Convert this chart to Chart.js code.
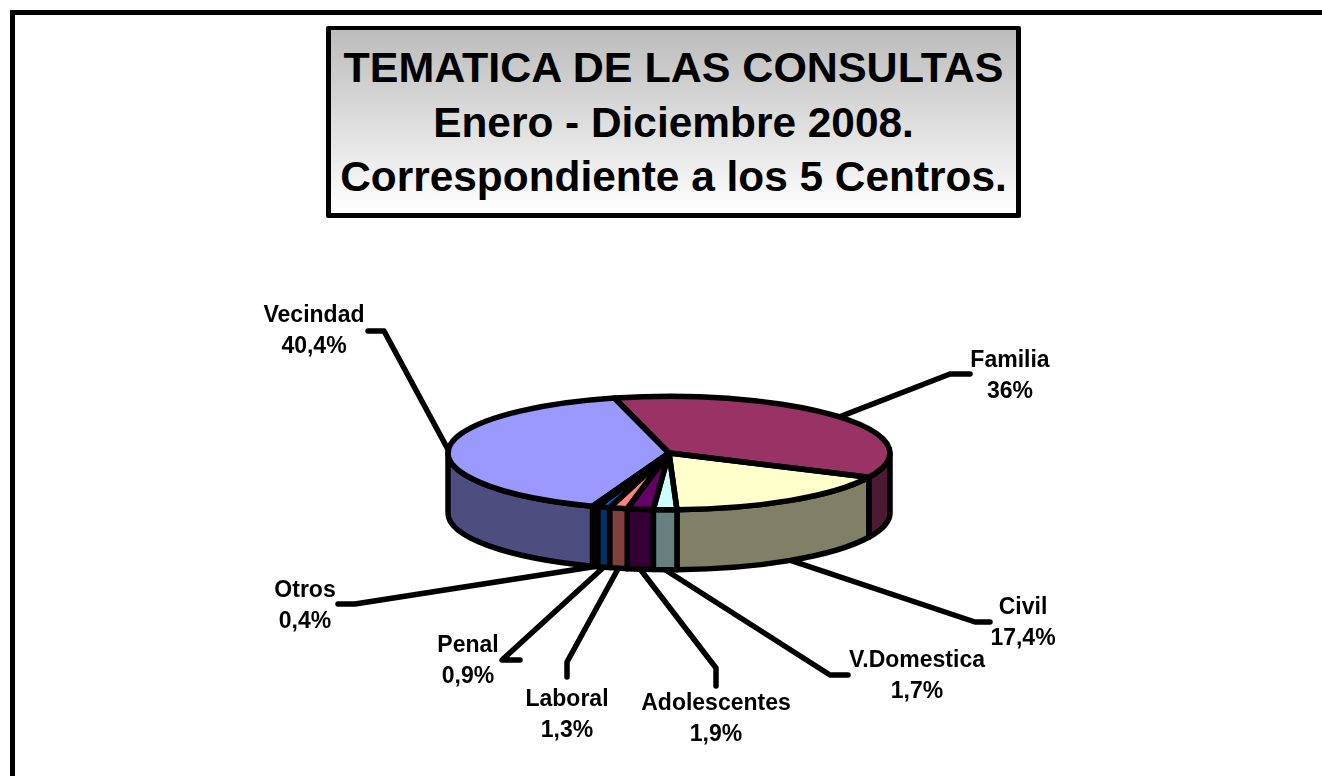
<!DOCTYPE html>
<html>
<head>
<meta charset="utf-8">
<title>Tematica de las consultas</title>
<script src="https://cdn.jsdelivr.net/npm/chart.js@4"></script>
<style>
    body { margin: 0; background: #fff; overflow: hidden; }
    #page { position: relative; width: 1322px; height: 776px; overflow: hidden; }
    #frame { position: absolute; left: 10px; top: 10px; width: 1400px; height: 900px;
        border-left: 5px solid #000; border-top: 5px solid #000; }
    #title { position: absolute; left: 326px; top: 26px; width: 695px; height: 192px; box-sizing: border-box;
        border: 5px solid #000; border-top-width: 4px; border-radius: 2px; background: linear-gradient(#bcbcbc, #fff);
        font: bold 42.4px/54.5px "Liberation Sans", Arial, sans-serif; text-align: center; padding-top: 10px; white-space: nowrap; }
    #title .first { font-size: 43px; }
    #chart { position: absolute; left: 0; top: 0; }
</style>
</head>
<body>
<div id="page">
    <div id="frame"></div>
    <canvas id="chart" width="1322" height="776"></canvas>
    <div id="title"><span class="first">TEMATICA DE LAS CONSULTAS</span><br>Enero - Diciembre 2008.<br>Correspondiente a los 5 Centros.</div>
</div>
<script>
const categories = ['Familia', 'Civil', 'V.Domestica', 'Adolescentes', 'Laboral', 'Penal', 'Otros', 'Vecindad'];
const values = [36, 17.4, 1.7, 1.9, 1.3, 0.9, 0.4, 40.4];
const topColors = ['#993366', '#FFFFCC', '#CCFFFF', '#660066', '#FF8080', '#0066CC', '#CCCCFF', '#9999FF'];
const sideColors = ['#4D1A33', '#808066', '#668080', '#330033', '#804040', '#003366', '#666680', '#4D4D80'];

// label centre (middle of the first line) and the bend of each leader line
const labelCenters = [[1010, 359], [1023, 606], [917, 659], [716, 702], [567, 698], [468, 644], [305, 589], [314, 314]];
const leaderStarts = [[970, 374], [990, 622], [848, 675], [716, 686], [567, 677], [520, 660], [338, 604], [368, 331]];
const leaderBends = [[950, 374], [975, 622], [830, 675], [716, 668], [567, 662], [502, 660], [355, 604], [384, 331]];

const squash = 0.2566;
const depth = 60;
const lineW = 5.5;

const pie3d = {
    id: 'pie3d',
    beforeDatasetsDraw(chart) {
        const ctx = chart.ctx;
        const arcs = chart.getDatasetMeta(0).data;
        const cx = arcs[0].x, cy = arcs[0].y, r = arcs[0].outerRadius;

        ctx.save();
        ctx.strokeStyle = '#000';
        ctx.lineWidth = lineW;
        ctx.lineJoin = 'round';
        ctx.lineCap = 'round';

        // leader lines go under the pie
        arcs.forEach((arc, i) => {
            const mid = (arc.startAngle + arc.endAngle) / 2;
            const sin = Math.sin(mid);
            ctx.beginPath();
            ctx.moveTo(leaderStarts[i][0], leaderStarts[i][1]);
            ctx.lineTo(leaderBends[i][0], leaderBends[i][1]);
            ctx.lineTo(cx + r * Math.cos(mid), cy + r * squash * sin + (sin > 0 ? depth : 0));
            ctx.stroke();
        });

        // walls, only the front half of the rim shows
        arcs.forEach((arc, i) => {
            const a0 = Math.max(arc.startAngle, 0);
            const a1 = Math.min(arc.endAngle, Math.PI);
            if (a1 <= a0) return;
            ctx.beginPath();
            ctx.ellipse(cx, cy, r, r * squash, 0, a0, a1);
            ctx.ellipse(cx, cy + depth, r, r * squash, 0, a1, a0, true);
            ctx.closePath();
            ctx.fillStyle = sideColors[i];
            ctx.fill();
            ctx.stroke();
        });
        ctx.restore();

        // the library fills the top face through this transform
        ctx.save();
        ctx.translate(cx, cy);
        ctx.scale(1, squash);
        ctx.translate(-cx, -cy);
    },
    afterDatasetsDraw(chart) {
        const ctx = chart.ctx;
        ctx.restore();

        const arcs = chart.getDatasetMeta(0).data;
        ctx.save();
        ctx.strokeStyle = '#000';
        ctx.lineWidth = lineW;
        ctx.lineJoin = 'round';
        arcs.forEach(arc => {
            ctx.beginPath();
            ctx.moveTo(arc.x, arc.y);
            ctx.ellipse(arc.x, arc.y, arc.outerRadius, arc.outerRadius * squash, 0, arc.startAngle, arc.endAngle);
            ctx.closePath();
            ctx.stroke();
        });

        ctx.fillStyle = '#000';
        ctx.font = 'bold 23px "Liberation Sans", Arial, sans-serif';
        ctx.textAlign = 'center';
        ctx.textBaseline = 'alphabetic';
        categories.forEach((name, i) => {
            ctx.fillText(name, labelCenters[i][0], labelCenters[i][1] + 8);
            ctx.fillText(String(values[i]).replace('.', ',') + '%', labelCenters[i][0], labelCenters[i][1] + 39);
        });
        ctx.restore();
    }
};

new Chart(document.getElementById('chart').getContext('2d'), {
    type: 'pie',
    data: {
        labels: categories,
        datasets: [{
            data: values,
            backgroundColor: topColors,
            borderWidth: 0
        }]
    },
    options: {
        responsive: false,
        animation: false,
        rotation: -14.3,
        layout: { padding: { left: 448, right: 432, top: 232, bottom: 102 } },
        plugins: {
            legend: { display: false },
            tooltip: { enabled: false }
        }
    },
    plugins: [pie3d]
});
</script>
</body>
</html>
